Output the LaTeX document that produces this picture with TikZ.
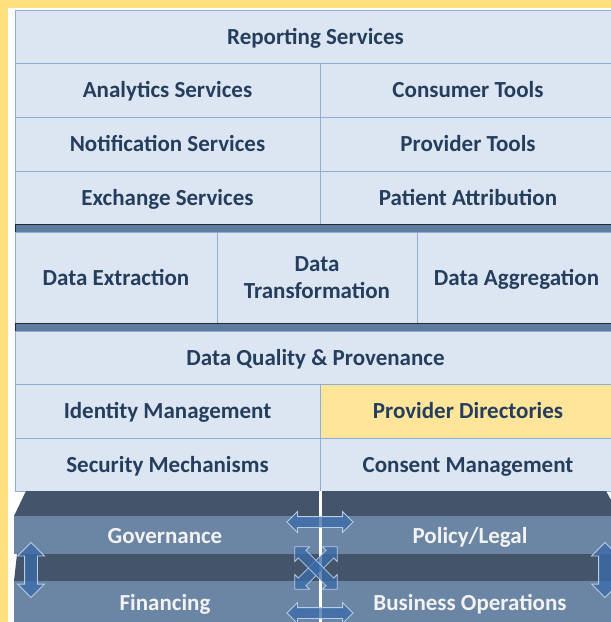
\documentclass[tikz,border=0pt]{standalone}
\usepackage{fontspec}
\setmainfont{Carlito}
\usetikzlibrary{shapes.arrows}

\definecolor{bgyellow}{HTML}{FFE07F}
\definecolor{cellfill}{HTML}{DCE6F2}
\definecolor{cellline}{HTML}{8EADD6}
\definecolor{celltext}{HTML}{253E5E}
\definecolor{pdirfill}{HTML}{FEE59A}
\definecolor{barfill}{HTML}{5F7B9D}
\definecolor{barline}{HTML}{1F2A38}
\definecolor{slabdark}{HTML}{44546A}
\definecolor{slablight}{HTML}{6B85A5}
\definecolor{arrowblue}{HTML}{3A6BAA}
\definecolor{arrowline}{HTML}{B8CCE4}

\tikzset{
  cellbase/.style={draw=cellline,fill=cellfill,line width=0.9pt,inner sep=0pt,outer sep=0pt,
    text=celltext,align=center,font=\bfseries\fontsize{23}{27}\selectfont},
  cell/.style={cellbase,text height=15pt,text depth=0pt},
  bar/.style={draw=barline,fill=barfill,line width=1pt,inner sep=0pt,outer sep=0pt,minimum width=601pt,minimum height=8pt},
  slabtext/.style={text=white!95!black,text height=15pt,text depth=0pt,font=\bfseries\fontsize{23}{27}\selectfont},
  dblarrow/.style={shape=double arrow,draw=arrowline,fill=arrowblue,fill opacity=0.75,line width=0.8pt,
    inner sep=5pt,double arrow head extend=5pt,outer sep=0pt}
}

\begin{document}
\begin{tikzpicture}[x=1pt,y=-1pt]

\useasboundingbox (0,0) rectangle (611,622);
\clip (0,0) rectangle (611,622);
\fill[bgyellow] (0,0) rectangle (611,622);
\fill[white] (8,8) rectangle (611,622);

% upper layers
\node[cell,minimum width=601pt,minimum height=53pt] (rep) at (315.5,36.5) {Reporting Services};

\node[cell,minimum width=305pt,minimum height=54pt] (ana) at (167.5,90) {Analytics Services};
\node[cell,minimum width=296pt,minimum height=54pt] (con) at (468,90) {Consumer Tools};

\node[cell,minimum width=305pt,minimum height=54pt] (noti) at (167.5,144) {Notification Services};
\node[cell,minimum width=296pt,minimum height=54pt] (prov) at (468,144) {Provider Tools};

\node[cell,minimum width=305pt,minimum height=53pt] (exch) at (167.5,197.5) {Exchange Services};
\node[cell,minimum width=296pt,minimum height=53pt] (patt) at (468,197.5) {Patient Attribution};

\node[bar] (bara) at (315.5,228) {};

\node[cell,minimum width=202pt,minimum height=91pt] (ext) at (116,277.5) {Data Extraction};
\node[cellbase,minimum width=200pt,minimum height=91pt] (trans) at (317,277.5) {Data\\Transformation};
\node[cell,minimum width=199pt,minimum height=91pt] (agg) at (516.5,277.5) {Data Aggregation};

\node[bar] (barb) at (315.5,327) {};

\node[cell,minimum width=601pt,minimum height=53pt] (dq) at (315.5,357.5) {Data Quality \& Provenance};

\node[cell,minimum width=305pt,minimum height=54pt] (idm) at (167.5,411) {Identity Management};
\node[cell,fill=pdirfill,minimum width=296pt,minimum height=54pt] (pdir) at (468,411) {Provider Directories};

\node[cell,minimum width=305pt,minimum height=53pt] (sec) at (167.5,464.5) {Security Mechanisms};
\node[cell,minimum width=296pt,minimum height=53pt] (cons) at (468,464.5) {Consent Management};

% foundation slabs
\fill[slabdark] (26,491) -- (606,491) -- (620,516) -- (14,516) -- cycle;
\fill[slablight] (14,516) rectangle (620,554);
\fill[slabdark] (17,554) -- (620,554) -- (620,581) -- (14,581) -- cycle;
\fill[slablight] (14,581) rectangle (620,622);
\draw[white,line width=3pt] (320,491) -- (320,622);

\node[slabtext] (gov) at (165,536) {Governance};
\node[slabtext] (pol) at (470,536) {Policy/Legal};
\node[slabtext] (fin) at (165,603) {Financing};
\node[slabtext] (busop) at (470,603) {Business Operations};

\node[dblarrow,minimum height=66pt] (arrtop) at (320,522) {};
\node[dblarrow,minimum height=66pt] (arrbot) at (320,613) {};
\node[dblarrow,rotate=90,minimum height=55pt,inner sep=6pt,double arrow head extend=7pt] (arrleft) at (31,570) {};
\node[dblarrow,rotate=90,minimum height=55pt,inner sep=6pt,double arrow head extend=7pt] (arrright) at (605,570) {};
\node[dblarrow,rotate=45,minimum height=60pt] (crossa) at (316,568) {};
\node[dblarrow,rotate=-45,minimum height=60pt] (crossb) at (316,568) {};

\end{tikzpicture}
\end{document}
